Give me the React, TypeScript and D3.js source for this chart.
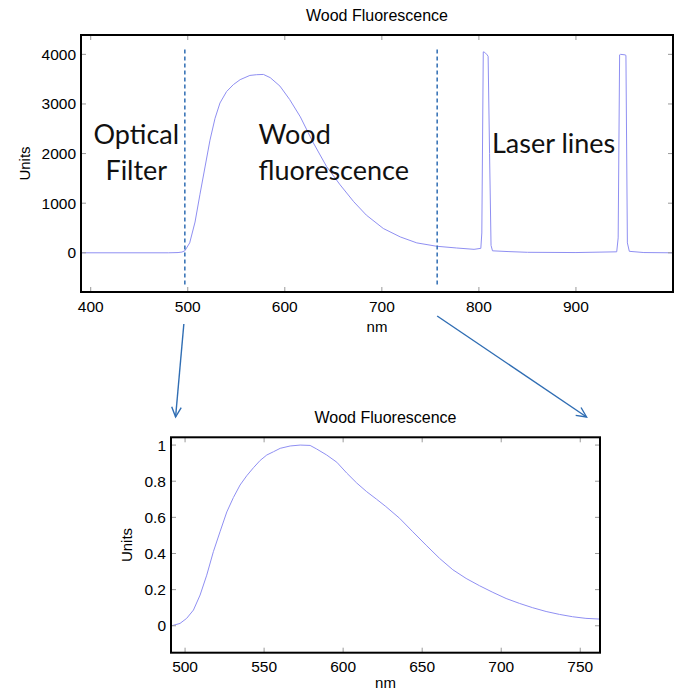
import React from 'react';
import * as d3 from 'd3';

// full spectrum (nm, raw counts)
const spectrumNm = [
  390, 480, 490, 494, 497, 502, 507.5, 512.6, 517.8, 522.9, 528.1, 533.2, 540, 547, 554, 564, 571, 578,
  585, 595, 605, 616, 629, 643, 657, 671, 684, 701.5, 719, 736, 756.5, 777, 795, 802, 803, 804.5, 806,
  808.5, 809.5, 811, 812.5, 814, 830, 850, 900, 942, 943.5, 945, 946, 950.5, 951.5, 953, 955, 970, 1000,
];
const spectrumUnits = [
  0, 0, 5, 15, 40, 200, 620, 1180, 1730, 2270, 2710, 3020, 3250, 3390, 3490, 3575, 3590, 3595,
  3530, 3360, 3090, 2740, 2230, 1740, 1370, 1030, 760, 490, 320, 200, 132, 97, 70, 90, 400, 4050, 4040,
  3990, 3960, 2000, 150, 40, 25, 10, 5, 20, 300, 3990, 4000, 3990, 3980, 200, 30, 5, 0,
];

// normalised fluorescence band (lower plot)
const fluorNm = [
  491.5, 496.8, 501, 505.3, 509.5, 513.7, 517.9, 522.1, 526.4, 530.6, 534.8, 539, 543.3, 547.5, 551.7,
  555.9, 560.2, 566.5, 572.8, 579.1, 583.3, 589.6, 596, 602.3, 608.6, 614.9, 621.2, 627, 635.7, 644.1,
  652.5, 661, 669.4, 677.8, 686.2, 694.7, 703.1, 711.5, 719.9, 728.4, 736.8, 745.2, 753.6, 762.5,
];
const fluorNorm = [
  0, 0.013, 0.041, 0.087, 0.17, 0.28, 0.41, 0.52, 0.63, 0.71, 0.779, 0.83, 0.875, 0.915, 0.945,
  0.963, 0.982, 0.995, 1.0, 0.998, 0.978, 0.945, 0.905, 0.845, 0.79, 0.742, 0.7, 0.66, 0.595, 0.52,
  0.446, 0.373, 0.31, 0.262, 0.222, 0.185, 0.151, 0.124, 0.1, 0.079, 0.063, 0.05, 0.041, 0.037,
];

const topTicksX = [400, 500, 600, 700, 800, 900];
const topTicksY = [0, 1000, 2000, 3000, 4000];
const bottomTicksX = [500, 550, 600, 650, 700, 750];
const bottomTicksY = [0, 0.2, 0.4, 0.6, 0.8, 1];

// filter cut-offs marked with dashed lines, and where the arrows land on the zoomed plot
const cutoffs = [497, 757];
const arrowTargets = [494, 754];

const regionLabels = [
  { lines: ['Optical', 'Filter'], nm: 447, units: 2193, anchor: 'middle' },
  { lines: ['Wood', 'fluorescence'], nm: 573, units: 2193, anchor: 'start' },
  { lines: ['Laser lines'], nm: 813.5, units: 2012, anchor: 'start' },
];

const W = 679;
const H = 693;
const LINE = '#8f8ff2';
const ANNOT = '#2f6db3';
const AXIS_FONT = '"Liberation Sans", Arial, Helvetica, sans-serif';

interface Box { left: number; right: number; top: number; bottom: number }

interface PanelProps {
  box: Box;
  x: d3.ScaleLinear<number, number>;
  y: d3.ScaleLinear<number, number>;
  xs: number[];
  ys: number[];
  ticksX: number[];
  ticksY: number[];
  fmtY: (v: number) => string;
  yLabelX: number;
  xLabelDy: number;
  children?: React.ReactNode;
}

const Panel: React.FC<PanelProps> = ({ box, x, y, xs, ys, ticksX, ticksY, fmtY, yLabelX, xLabelDy, children }) => {
  const line = d3
    .line<number>()
    .x(i => x(xs[i]))
    .y(i => y(ys[i]));
  const idx = d3.range(xs.length);
  const tl = 5;
  const cx = (box.left + box.right) / 2;

  return (
    <g>
      <text x={cx} y={box.top - 14} textAnchor="middle" fontSize={16} fontFamily={AXIS_FONT}>
        Wood Fluorescence
      </text>
      <clipPath id={`clip-${box.top}`}>
        <rect x={box.left} y={box.top} width={box.right - box.left} height={box.bottom - box.top} />
      </clipPath>
      <path d={line(idx) || ''} fill="none" stroke={LINE} strokeWidth={1} clipPath={`url(#clip-${box.top})`} />
      {ticksX.map(t => (
        <g key={`tx${t}`}>
          <line x1={x(t)} x2={x(t)} y1={box.bottom} y2={box.bottom - tl} stroke="#999" />
          <line x1={x(t)} x2={x(t)} y1={box.top} y2={box.top + tl} stroke="#999" />
          <text x={x(t)} y={box.bottom + 19.5} textAnchor="middle" fontSize={15.5} fontFamily={AXIS_FONT}>
            {t}
          </text>
        </g>
      ))}
      {ticksY.map(t => (
        <g key={`ty${t}`}>
          <line x1={box.left} x2={box.left + tl} y1={y(t)} y2={y(t)} stroke="#999" />
          <line x1={box.right} x2={box.right - tl} y1={y(t)} y2={y(t)} stroke="#999" />
          <text
            x={box.left - 5}
            y={y(t)}
            textAnchor="end"
            dominantBaseline="central"
            fontSize={15.5}
            fontFamily={AXIS_FONT}
          >
            {fmtY(t)}
          </text>
        </g>
      ))}
      {children}
      <rect
        x={box.left}
        y={box.top}
        width={box.right - box.left}
        height={box.bottom - box.top}
        fill="none"
        stroke="#000"
        strokeWidth={2}
      />
      <text x={cx} y={box.bottom + xLabelDy} textAnchor="middle" fontSize={15} fontFamily={AXIS_FONT}>
        nm
      </text>
      <text
        transform={`translate(${yLabelX},${(box.top + box.bottom) / 2}) rotate(-90)`}
        textAnchor="middle"
        fontSize={15}
        fontFamily={AXIS_FONT}
      >
        Units
      </text>
    </g>
  );
};

const Arrow: React.FC<{ x1: number; y1: number; x2: number; y2: number }> = ({ x1, y1, x2, y2 }) => {
  const a = Math.atan2(y2 - y1, x2 - x1);
  const len = 11;
  const spread = Math.PI / 7;
  const p1 = [x2 - len * Math.cos(a - spread), y2 - len * Math.sin(a - spread)];
  const p2 = [x2 - len * Math.cos(a + spread), y2 - len * Math.sin(a + spread)];
  return (
    <g stroke={ANNOT} strokeWidth={1.4} fill="none">
      <line x1={x1} y1={y1} x2={x2} y2={y2} />
      <polyline points={`${p1[0]},${p1[1]} ${x2},${y2} ${p2[0]},${p2[1]}`} />
    </g>
  );
};

export default function App() {
  const topBox: Box = { left: 81, right: 673, top: 35, bottom: 292 };
  const botBox: Box = { left: 171, right: 600, top: 437.3, bottom: 652.7 };

  const xTop = d3.scaleLinear().domain([390, 1000]).range([topBox.left, topBox.right]);
  const yTop = d3.scaleLinear().domain([-790, 4390]).range([topBox.bottom, topBox.top]);
  const xBot = d3.scaleLinear().domain([491.1, 762.5]).range([botBox.left, botBox.right]);
  const yBot = d3.scaleLinear().domain([-0.149, 1.043]).range([botBox.bottom, botBox.top]);

  return (
    <svg
      width={W}
      height={H}
      style={{ position: 'absolute', left: 0, top: 0, background: '#fff' }}
    >
      <Panel
        box={topBox}
        x={xTop}
        y={yTop}
        xs={spectrumNm}
        ys={spectrumUnits}
        ticksX={topTicksX}
        ticksY={topTicksY}
        fmtY={d3.format('d')}
        yLabelX={30}
        xLabelDy={39.5}
      >
        {cutoffs.map(c => (
          <line
            key={c}
            x1={xTop(c)}
            x2={xTop(c)}
            y1={yTop(4100)}
            y2={yTop(-660)}
            stroke={ANNOT}
            strokeWidth={1.5}
            strokeDasharray="4,3"
          />
        ))}
        {regionLabels.map(r => (
          <text
            key={r.lines[0]}
            x={xTop(r.nm)}
            y={yTop(r.units)}
            textAnchor={r.anchor}
            fontSize={27}
            fontFamily="Lato, 'Open Sans', sans-serif"
            fill="#111"
          >
            {r.lines.map((l, i) => (
              <tspan key={l} x={xTop(r.nm)} dy={i === 0 ? 0 : 36}>
                {l}
              </tspan>
            ))}
          </text>
        ))}
      </Panel>

      <Panel
        box={botBox}
        x={xBot}
        y={yBot}
        xs={fluorNm}
        ys={fluorNorm}
        ticksX={bottomTicksX}
        ticksY={bottomTicksY}
        fmtY={d3.format('~g')}
        yLabelX={131.5}
        xLabelDy={35}
      />

      {cutoffs.map((c, i) => (
        <Arrow
          key={c}
          x1={xTop(c) - (i === 0 ? 1 : 0)}
          y1={i === 0 ? 324 : 316}
          x2={xBot(arrowTargets[i])}
          y2={417}
        />
      ))}
    </svg>
  );
}
